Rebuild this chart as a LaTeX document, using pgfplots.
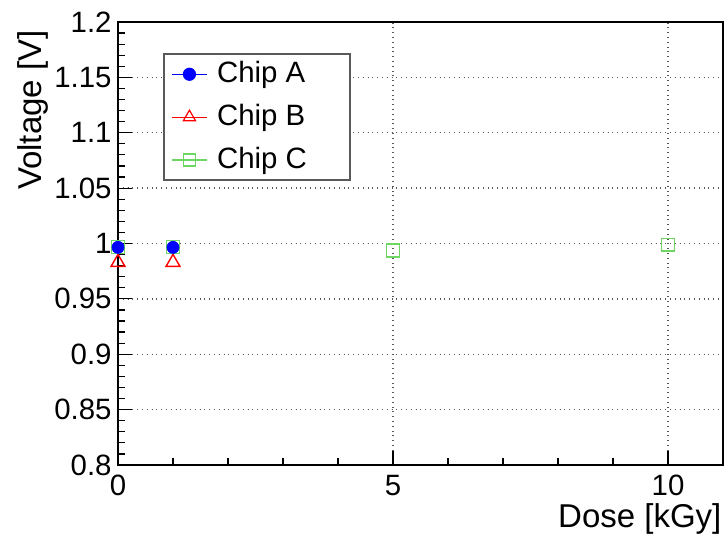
\documentclass[border=0pt]{standalone}
\usepackage{pgfplots}
\pgfplotsset{compat=1.18}
\usepackage{fontspec}
\setmainfont{Liberation Sans}
\definecolor{cA}{RGB}{0,0,255}
\definecolor{cB}{RGB}{255,0,0}
\definecolor{cC}{RGB}{110,215,100}
\newcommand{\tickfont}{\fontsize{14.7}{17}\selectfont}
\newcommand{\titlefont}{\fontsize{16.5}{19}\selectfont}
\begin{document}
\tickfont
\begin{tikzpicture}
\begin{axis}[
  scale only axis, width=302.5pt, height=221.5pt,
  xmin=0, xmax=11, ymin=0.8, ymax=1.2,
  xtick={0,5,10}, minor x tick num=4,
  ytick={0.8,0.85,0.9,0.95,1,1.05,1.1,1.15,1.2},
  minor y tick num=4,
  tick pos=left, tick align=inside,
  major tick length=7pt, minor tick length=3.5pt,
  every tick/.style={black, line width=0.6pt},
  grid=major, major grid style={dotted, gray!70!black, line width=0.7pt},
  axis line style={line width=1pt},
  /pgf/number format/assume math mode=true,
  /pgf/number format/fixed,
  /pgf/number format/precision=2,
  ticklabel style={font=\tickfont},
  yticklabel style={inner sep=0pt, xshift=-3pt},
  xticklabel style={inner sep=0pt, yshift=-5pt},
  xlabel={Dose [kGy]}, ylabel={Voltage [V]},
  label style={font=\titlefont},
  xlabel style={at={(axis description cs:0.998,-0.086)}, anchor=north east, inner sep=0pt},
  ylabel style={at={(axis description cs:-0.114,0.982)}, anchor=south east, rotate=0, inner sep=0pt},
  legend style={at={(axis description cs:0.074,0.930)}, anchor=north west,
    draw=gray!70!black, line width=1pt, fill=white, row sep=3.6pt,
    inner ysep=1.2pt, inner xsep=4pt, font=\tickfont, nodes={inner ysep=2.5pt}},
  legend cell align=left,
]
\addlegendimage{cA, line width=0.6pt, mark=*, mark size=3pt, mark options={solid}}
\addlegendentry{\makebox[63.5pt][l]{\hspace{3pt}Chip A}}
\addlegendimage{cB, line width=0.6pt, mark=triangle, mark size=3.5pt, mark options={solid}}
\addlegendentry{\makebox[63.5pt][l]{\hspace{3pt}Chip B}}
\addlegendimage{cC, line width=0.6pt, mark=square, mark size=3pt, mark options={solid}}
\addlegendentry{\makebox[63.5pt][l]{\hspace{3pt}Chip C}}
\addplot[forget plot, only marks, cC, mark=square, mark size=3.2pt, line width=0.7pt] coordinates {(0,0.997) (1,0.997) (5,0.9937) (10,0.999)};
\addplot[forget plot, only marks, cB, mark=triangle, mark size=4pt, line width=0.7pt] coordinates {(0,0.983) (1,0.983)};
\addplot[forget plot, only marks, cA, mark=*, mark size=3pt] coordinates {(0,0.9965) (1,0.9965)};
\end{axis}
\pgfresetboundingbox
\path[use as bounding box] ([shift={(-59pt,-37pt)}]current axis.south west) rectangle ([shift={(1.5pt,11pt)}]current axis.north east);
\end{tikzpicture}
\end{document}
